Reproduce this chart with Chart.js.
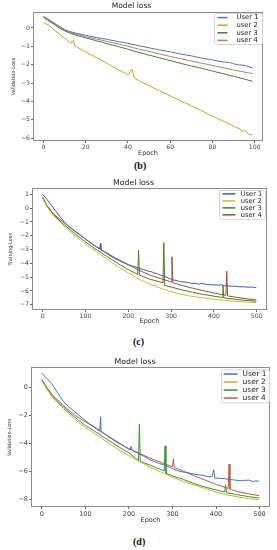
<!DOCTYPE html>
<html>
<head>
<meta charset="utf-8">
<script src="https://cdn.jsdelivr.net/npm/chart.js@4.4.0/dist/chart.umd.min.js"></script>
<style>
  html, body { margin: 0; padding: 0; background: #fff; }
  body { width: 277px; height: 550px; position: relative; overflow: hidden; }
  .panel { position: absolute; left: 0; width: 277px; }
  .tag { position: absolute; font-family: "Liberation Serif", serif; font-weight: bold; font-size: 10px; line-height: 12px; color: #111; }
</style>
</head>
<body>
<div class="panel" style="top:0;height:160px"><canvas id="chartB"></canvas></div>
<div class="tag" style="left:134px;top:160px">(b)</div>
<div class="panel" style="top:176px;height:153px"><canvas id="chartC"></canvas></div>
<div class="tag" style="left:133px;top:336px">(c)</div>
<div class="panel" style="top:355px;height:172px"><canvas id="chartD"></canvas></div>
<div class="tag" style="left:133px;top:536px">(d)</div>

<script>
const userLabels = ['User 1', 'user 2', 'user 3', 'user 4'];

// (b) validation loss, 100 epochs  [epoch, loss]
const bTicksX = [0, 20, 40, 60, 80, 100];
const bTicksY = [-6, -5, -4, -3, -2, -1, 0];
const bUser1 = [[0,0.62],[2,0.5],[4,0.35],[6,0.2],[8,0.05],[10,-0.08],[12,-0.18],[15,-0.27],[20,-0.4],[25,-0.52],[30,-0.62],[35,-0.73],[40,-0.84],[45,-0.96],[50,-1.08],[55,-1.2],[60,-1.3],[65,-1.42],[70,-1.52],[75,-1.64],[80,-1.74],[85,-1.85],[88,-1.88],[90,-1.95],[93,-2.02],[95,-2.03],[97,-2.1],[99,-2.18]];
const bUser2 = [[0,0.31],[3,0.12],[5,-0.1],[8,-0.37],[11,-0.65],[13,-0.82],[14,-0.69],[15,-1.0],[16,-1.06],[20,-1.3],[25,-1.62],[30,-1.92],[35,-2.24],[40,-2.55],[42,-2.24],[43,-2.73],[45,-2.86],[50,-3.15],[55,-3.42],[60,-3.7],[65,-3.97],[70,-4.25],[75,-4.52],[80,-4.8],[85,-5.07],[88,-5.22],[90,-5.35],[92,-5.46],[93,-5.5],[94,-5.64],[95,-5.6],[96,-5.62],[97,-5.78],[98,-5.82],[99,-5.8]];
const bUser3 = [[0,0.58],[2,0.42],[4,0.28],[6,0.12],[8,-0.03],[10,-0.15],[12,-0.26],[15,-0.38],[20,-0.54],[25,-0.69],[30,-0.85],[35,-1.0],[40,-1.16],[45,-1.33],[50,-1.48],[55,-1.63],[60,-1.78],[65,-1.93],[70,-2.07],[75,-2.2],[80,-2.35],[85,-2.49],[90,-2.63],[95,-2.78],[99,-2.91]];
const bUser4 = [[0,0.6],[2,0.45],[4,0.3],[6,0.15],[8,0.0],[10,-0.12],[12,-0.22],[15,-0.33],[20,-0.47],[25,-0.6],[30,-0.73],[35,-0.86],[40,-1.0],[45,-1.15],[50,-1.28],[55,-1.42],[60,-1.55],[65,-1.68],[70,-1.8],[75,-1.92],[80,-2.04],[85,-2.17],[90,-2.29],[95,-2.4],[99,-2.49]];

// (c) training loss, 500 epochs
const cTicksX = [0, 100, 200, 300, 400, 500];
const cTicksY = [-7, -6, -5, -4, -3, -2, -1, 0, 1];
const cUser1 = [[0,1.0],[10,0.62],[20,0.22],[30,-0.2],[44,-0.77],[50,-1.0],[60,-1.3],[75,-1.65],[90,-2.0],[100,-2.25],[115,-2.6],[125,-2.8],[133,-2.95],[135,-2.57],[136,-3.0],[145,-3.2],[160,-3.5],[175,-3.75],[185,-3.9],[200,-4.1],[210,-4.2],[227,-4.37],[235,-4.45],[245,-4.55],[255,-4.62],[260,-4.7],[266,-4.73],[275,-4.85],[285,-4.95],[295,-5.08],[304,-5.2],[315,-5.25],[320,-5.32],[330,-5.35],[340,-5.38],[345,-5.44],[355,-5.45],[365,-5.5],[372,-5.46],[382,-5.52],[390,-5.55],[400,-5.56],[410,-5.58],[418,-5.55],[425,-5.62],[440,-5.65],[450,-5.66],[460,-5.7],[470,-5.7],[480,-5.73],[490,-5.72],[499,-5.76]];
const cUser2 = [[0,0.7],[10,0.1],[25,-0.55],[50,-1.3],[75,-2.0],[100,-2.6],[125,-3.15],[150,-3.7],[175,-4.2],[200,-4.7],[225,-5.15],[250,-5.5],[275,-5.8],[300,-6.05],[325,-6.25],[350,-6.4],[375,-6.5],[400,-6.6],[425,-6.68],[450,-6.75],[475,-6.8],[499,-6.85]];
const cUser3 = [[0,0.75],[10,0.15],[25,-0.48],[50,-1.2],[75,-1.85],[100,-2.45],[125,-3.0],[150,-3.5],[175,-4.0],[200,-4.45],[222,-4.8],[224,-3.05],[226,-4.85],[250,-5.15],[281,-5.4],[283,-2.5],[285,-5.6],[300,-5.72],[325,-5.92],[350,-6.1],[375,-6.25],[400,-6.38],[419,-6.47],[421,-5.57],[423,-6.5],[450,-6.6],[475,-6.68],[499,-6.75]];
const cUser4 = [[0,0.8],[10,0.2],[25,-0.42],[50,-1.05],[75,-1.68],[100,-2.25],[125,-2.78],[150,-3.25],[175,-3.7],[200,-4.1],[225,-4.5],[250,-4.85],[275,-5.1],[300,-5.35],[302,-3.53],[304,-5.4],[325,-5.6],[350,-5.8],[375,-5.98],[400,-6.15],[428,-6.32],[430,-4.56],[432,-6.36],[450,-6.45],[475,-6.56],[499,-6.65]];

// (d) validation loss, 500 epochs
const dTicksX = [0, 100, 200, 300, 400, 500];
const dTicksY = [-8, -6, -4, -2, 0];
const dUser1 = [[0,1.02],[10,0.7],[22,0.31],[35,-0.3],[49,-0.97],[61,-1.35],[75,-1.7],[90,-2.1],[110,-2.6],[125,-2.95],[133,-3.1],[135,-2.07],[136,-3.13],[150,-3.4],[165,-3.7],[180,-4.0],[195,-4.3],[202,-4.44],[205,-4.2],[208,-4.5],[225,-4.75],[235,-4.9],[248,-5.15],[260,-5.3],[270,-5.42],[280,-5.5],[295,-5.7],[305,-5.85],[317,-5.98],[330,-6.05],[340,-6.1],[350,-6.18],[360,-6.22],[370,-6.25],[379,-6.34],[390,-6.38],[395,-5.86],[397,-6.45],[410,-6.48],[420,-6.5],[430,-6.55],[440,-6.58],[455,-6.65],[465,-6.62],[475,-6.6],[485,-6.7],[492,-6.65],[499,-6.69]];
const dUser2 = [[0,0.5],[10,-0.05],[25,-0.72],[50,-1.5],[75,-2.25],[100,-2.85],[126,-3.37],[150,-3.9],[175,-4.4],[200,-4.85],[225,-5.3],[250,-5.7],[275,-6.05],[300,-6.4],[325,-6.7],[350,-6.95],[375,-7.2],[400,-7.45],[425,-7.65],[450,-7.8],[475,-7.92],[499,-8.0]];
const dUser3 = [[0,0.6],[10,0.05],[25,-0.62],[50,-1.4],[75,-2.1],[100,-2.7],[126,-3.2],[150,-3.7],[175,-4.2],[200,-4.65],[222,-5.2],[224,-2.6],[226,-5.27],[250,-5.55],[270,-5.8],[281,-5.95],[283,-4.15],[285,-6.1],[300,-6.3],[325,-6.55],[350,-6.85],[375,-7.1],[400,-7.3],[420,-7.45],[422,-6.93],[424,-7.5],[450,-7.65],[475,-7.78],[499,-7.88]];
const dUser4 = [[0,0.55],[10,0.05],[25,-0.55],[50,-1.3],[75,-1.95],[100,-2.45],[126,-2.9],[150,-3.45],[175,-3.95],[200,-4.35],[225,-4.7],[250,-5.05],[275,-5.35],[300,-5.65],[302,-5.1],[304,-5.7],[325,-5.95],[350,-6.3],[375,-6.6],[400,-6.9],[428,-7.2],[430,-5.46],[432,-7.25],[450,-7.42],[475,-7.58],[499,-7.71]];

const toPoints = pairs => pairs.map(([x, y]) => ({ x, y }));
const minus = v => String(v).replace('-', '\u2212');

// matplotlib style frame on all four sides + legend box in the upper right
const frameAndLegend = {
  id: 'frameAndLegend',
  afterDraw(chart, args, opts) {
    const { ctx, chartArea: a } = chart;
    ctx.save();
    ctx.strokeStyle = '#8c8c8c';
    ctx.lineWidth = 1;
    ctx.strokeRect(Math.round(a.left) + 0.5, Math.round(a.top) + 0.5, Math.round(a.width) - 1, Math.round(a.height) - 1);

    const x = a.right - opts.right - opts.width;
    const y = a.top + opts.top;
    ctx.fillStyle = 'rgba(255,255,255,0.85)';
    ctx.strokeStyle = '#d4d4d4';
    ctx.beginPath();
    ctx.roundRect(x + 0.5, y + 0.5, opts.width, opts.height, 2);
    ctx.fill();
    ctx.stroke();

    ctx.font = opts.fontSize + 'px "DejaVu Sans"';
    ctx.textBaseline = 'middle';
    chart.data.datasets.forEach((ds, i) => {
      const ry = y + opts.first + i * opts.row;
      ctx.strokeStyle = ds.borderColor;
      ctx.lineWidth = 1.5;
      ctx.beginPath();
      ctx.moveTo(x + opts.lineX, ry);
      ctx.lineTo(x + opts.lineX + opts.lineLen, ry);
      ctx.stroke();
      ctx.fillStyle = '#222';
      ctx.fillText(ds.label, x + opts.textX, ry);
    });
    ctx.restore();
  }
};

function makeChart(id, p) {
  return new Chart(document.getElementById(id), {
    type: 'line',
    data: {
      datasets: p.series.map((s, i) => ({
        label: userLabels[i],
        data: toPoints(s),
        borderColor: p.colors[i],
        borderWidth: 1,
        pointRadius: 0,
        tension: 0
      }))
    },
    options: {
      responsive: true,
      maintainAspectRatio: false,
      animation: false,
      layout: { padding: { left: 0, right: p.padRight, top: 0, bottom: 0 } },
      plugins: {
        legend: { display: false },
        tooltip: { enabled: false },
        title: {
          display: true,
          text: 'Model loss',
          color: '#222',
          font: { family: 'DejaVu Sans', size: p.titleSize, weight: 'normal' },
          padding: { top: 2, bottom: 1 }
        },
        frameAndLegend: p.legend
      },
      scales: {
        x: {
          type: 'linear',
          min: p.xMin,
          max: p.xMax,
          afterBuildTicks: ax => { ax.ticks = p.xTicks.map(v => ({ value: v })); },
          afterFit: ax => { ax.height = p.xHeight; },
          grid: { display: true, drawOnChartArea: false, drawTicks: true, tickLength: 2, color: '#666' },
          border: { display: false },
          ticks: { color: '#444', padding: 1, maxRotation: 0, font: { family: 'DejaVu Sans', size: p.tickSize } },
          title: { display: true, text: 'Epoch', color: '#333', padding: { top: 0, bottom: p.xTitlePad }, font: { family: 'DejaVu Sans', size: 6.5 } }
        },
        y: {
          min: p.yMin,
          max: p.yMax,
          afterBuildTicks: ax => { ax.ticks = p.yTicks.map(v => ({ value: v })); },
          afterFit: ax => { ax.width = p.yWidth; },
          grid: { display: true, drawOnChartArea: false, drawTicks: true, tickLength: 2, color: '#666' },
          border: { display: false },
          ticks: { color: '#444', padding: 1, callback: v => minus(v), font: { family: 'DejaVu Sans', size: p.tickSize } },
          title: { display: true, text: p.yTitle, color: '#333', padding: { top: p.yTitlePad, bottom: 0 }, font: { family: 'DejaVu Sans', size: 5 } }
        }
      }
    },
    plugins: [frameAndLegend]
  });
}

makeChart('chartB', {
  series: [bUser1, bUser2, bUser3, bUser4],
  colors: ['#5a70c4', '#d4a21c', '#4b7d38', '#a08868'],
  xMin: -4.95, xMax: 103.95, xTicks: bTicksX,
  yMin: -6.16, yMax: 0.87, yTicks: bTicksY,
  yTitle: 'Validation-Loss',
  padRight: 14, yWidth: 33, xHeight: 19, xTitlePad: 2.8, yTitlePad: 10.3,
  titleSize: 7.5, tickSize: 6.2,
  legend: { right: 1, top: 1, width: 48, height: 31, first: 4.6, row: 7.6, lineX: 3.5, lineLen: 10, textX: 22.5, fontSize: 6.8 }
});

makeChart('chartC', {
  series: [cUser1, cUser2, cUser3, cUser4],
  colors: ['#3d5fb5', '#b5cc1e', '#4f7d24', '#a3502b'],
  xMin: -25, xMax: 524, xTicks: cTicksX,
  yMin: -7.38, yMax: 1.43, yTicks: cTicksY,
  yTitle: 'Training-Loss',
  padRight: 10, yWidth: 32, xHeight: 19, xTitlePad: 3.4, yTitlePad: 7.7,
  titleSize: 7.8, tickSize: 6.2,
  legend: { right: 2, top: 1.5, width: 46, height: 29, first: 4, row: 7, lineX: 3.4, lineLen: 13, textX: 21.7, fontSize: 6.7 }
});

makeChart('chartD', {
  series: [dUser1, dUser2, dUser3, dUser4],
  colors: ['#4272c0', '#d2b02a', '#35962f', '#c05a3c'],
  xMin: -25, xMax: 524, xTicks: dTicksX,
  yMin: -8.52, yMax: 1.45, yTicks: dTicksY,
  yTitle: 'Validation-Loss',
  padRight: 7, yWidth: 31, xHeight: 20, xTitlePad: 2.4, yTitlePad: 7,
  titleSize: 7.8, tickSize: 6.5,
  legend: { right: 1, top: 2, width: 48, height: 33, first: 4.7, row: 8, lineX: 2.6, lineLen: 14, textX: 21.6, fontSize: 7.4 }
});
</script>
</body>
</html>
